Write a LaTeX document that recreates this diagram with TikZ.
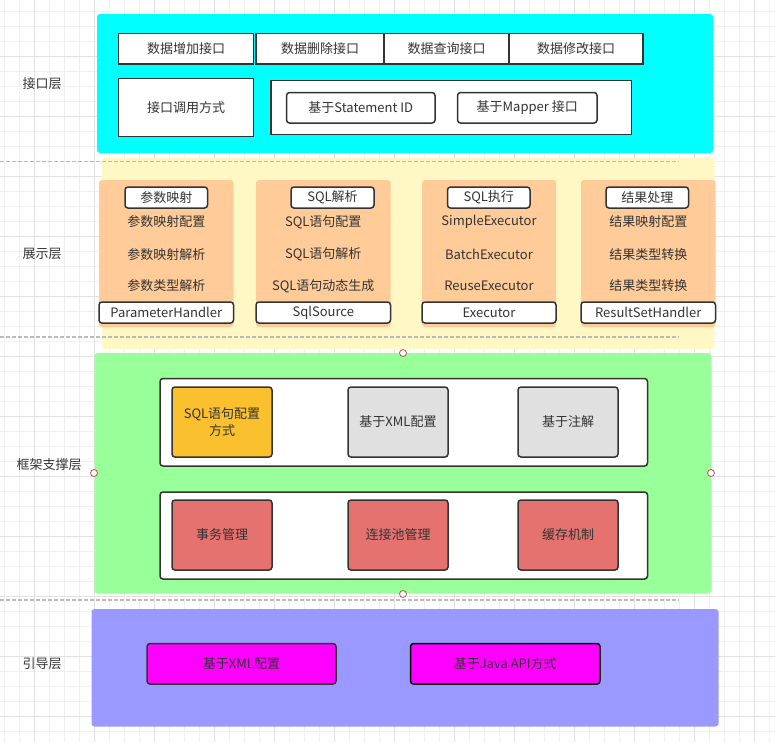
\documentclass[tikz,border=0pt]{standalone}
\usepackage{fontspec}
\setmainfont{Noto Sans CJK SC}
\definecolor{txtc}{HTML}{333333}
\definecolor{gridminor}{HTML}{F0F0F0}
\definecolor{gridmajor}{HTML}{E2E2E2}
\definecolor{cyanp}{HTML}{00FFFF}
\definecolor{yellowp}{HTML}{FFF8C4}
\definecolor{orangep}{HTML}{FFCC99}
\definecolor{greenp}{HTML}{99FF99}
\definecolor{purplep}{HTML}{9999FF}
\definecolor{magentap}{HTML}{FF00FF}
\definecolor{greyp}{HTML}{E0E0E0}
\definecolor{goldp}{HTML}{FBC02D}
\definecolor{redp}{HTML}{E67270}
\definecolor{dashc}{HTML}{BBBBBB}
\definecolor{ptc}{HTML}{B85450}
\newcommand\bx[7]{\node[#6, minimum width={#4-#2}, minimum height={#5-#3}] (#1) at ({(#2+#4)/2},{(#3+#5)/2}) {#7};}
\tikzset{
  every node/.style={font=\fontsize{13}{15.5}\selectfont, text=txtc, inner sep=0pt, outer sep=0pt},
  panel/.style={draw=none, rounded corners=3pt},
  wbox/.style={draw=txtc, line width=1.5pt, fill=white},
  rbox/.style={wbox, rounded corners=3pt},
  sepline/.style={draw=dashc, line width=1.2pt, dash pattern=on 4pt off 2pt},
  cpt/.style={circle, draw=ptc, fill=white, minimum size=7pt, line width=0.8pt},
  plain/.style={}
}
\begin{document}
\begin{tikzpicture}[x=1pt,y=-1pt]
\useasboundingbox (0,0) rectangle (775,742);
% grid
\foreach \x in {4,19,...,769} \draw[gridminor, line width=0.8pt] (\x,0) -- (\x,742);
\foreach \y in {11.7,26.7,...,740} \draw[gridminor, line width=0.8pt] (0,\y) -- (775,\y);
\foreach \x in {34,94,...,760} \draw[gridmajor, line width=0.8pt] (\x,0) -- (\x,742);
\foreach \y in {56.7,116.7,...,740} \draw[gridmajor, line width=0.8pt] (0,\y) -- (775,\y);

% layer labels
\node (l1) at (42,84) {接口层};
\node (l2) at (42,254) {展示层};
\node (l3) at (49,465) {框架支撑层};
\node (l4) at (42,664) {引导层};

% interface layer
\bx{pcyan}{97}{14}{713}{153}{panel, fill=cyanp}{}
\bx{a1}{118.5}{33.5}{253.5}{64}{wbox}{数据增加接口}
\bx{a2}{256}{33.5}{384}{64}{wbox}{数据删除接口}
\bx{a3}{384}{33.5}{509}{64}{wbox}{数据查询接口}
\bx{a4}{509}{33.5}{643}{64}{wbox}{数据修改接口}
\bx{b1}{118.5}{78.5}{253.5}{136.5}{wbox}{接口调用方式}
\bx{b2}{271}{80.5}{631.5}{134.5}{wbox}{}
\bx{b3}{286.5}{92.5}{435}{123}{rbox}{基于Statement ID}
\bx{b4}{457.5}{92.5}{597}{123}{rbox}{基于Mapper 接口}

% presentation layer
\bx{pyellow}{102}{158}{714.5}{349}{panel, fill=yellowp}{}
\foreach \n/\xa/\xb/\ha/\hb/\h/\ia/\ib/\ic/\ft in {
  c1/99/233.5/125/207.5/参数映射/参数映射配置/参数映射解析/参数类型解析/ParameterHandler,
  c2/256/390.5/291/374/SQL解析/SQL语句配置/SQL语句解析/SQL语句动态生成/SqlSource,
  c3/422/556/447.5/530/SQL执行/SimpleExecutor/BatchExecutor/ReuseExecutor/Executor,
  c4/581/715.5/606/688.5/结果处理/结果映射配置/结果类型转换/结果类型转换/ResultSetHandler}{
  \bx{\n}{\xa}{180}{\xb}{327}{panel, fill=orangep}{}
  \bx{\n h}{\ha}{187}{\hb}{208}{rbox}{\h}
  \node (\n i1) at ({(\xa+\xb)/2},222) {\ia};
  \node (\n i2) at ({(\xa+\xb)/2},254.5) {\ib};
  \node (\n i3) at ({(\xa+\xb)/2},286) {\ic};
  \bx{\n f}{\xa}{302}{\xb}{323}{rbox}{\ft}
}

% framework layer
\bx{pgreen}{94.5}{353}{711}{593.5}{panel, fill=greenp}{}
\bx{u}{160}{378.5}{647.5}{466}{rbox}{}
\bx{u1}{172}{387}{272}{457}{rbox, fill=goldp, align=center}{SQL语句配置\\[1pt]方式}
\bx{u2}{348}{387}{448}{457}{rbox, fill=greyp}{基于XML配置}
\bx{u3}{518}{387}{618}{457}{rbox, fill=greyp}{基于注解}
\bx{d}{160}{492}{647.5}{579}{rbox}{}
\bx{d1}{172}{500}{272}{570}{rbox, fill=redp}{事务管理}
\bx{d2}{348}{500}{448}{570}{rbox, fill=redp}{连接池管理}
\bx{d3}{518}{500}{618}{570}{rbox, fill=redp}{缓存机制}
\node[cpt] (p1) at (403,353) {};
\node[cpt] (p2) at (94,473) {};
\node[cpt] (p3) at (711,473) {};
\node[cpt] (p4) at (403,594) {};

% guide layer
\bx{ppurple}{91.5}{609}{718.5}{726.5}{panel, fill=purplep}{}
\bx{g1}{147}{643.5}{336}{684}{rbox, fill=magentap}{基于XML配置}
\bx{g2}{410.5}{643.5}{600}{684}{rbox, fill=magentap, draw=black}{基于Java API方式}

% separators
\coordinate (s1a) at (0,161.5); \coordinate (s1b) at (679,161.5);
\coordinate (s2a) at (0,337); \coordinate (s2b) at (679,337);
\coordinate (s3a) at (0,600); \coordinate (s3b) at (679,600);
\draw[sepline] (s1a) -- (s1b);
\draw[sepline] (s2a) -- (s2b);
\draw[sepline] (s3a) -- (s3b);
\end{tikzpicture}
\end{document}
